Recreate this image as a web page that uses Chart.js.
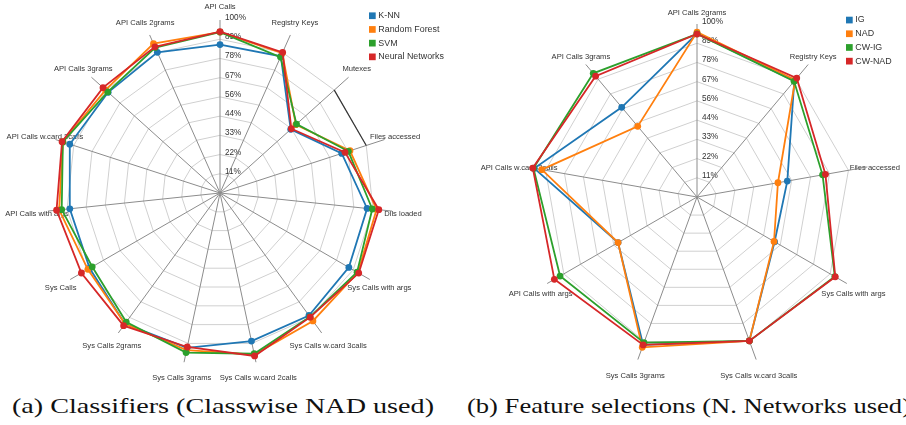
<!DOCTYPE html>
<html><head><meta charset="utf-8">
<script src="https://cdn.jsdelivr.net/npm/chart.js@4/dist/chart.umd.min.js"></script>
<style>
html,body{margin:0;padding:0;background:#fff;width:906px;height:425px;overflow:hidden;position:relative;}
.wrap{position:absolute;top:0;width:453px;height:390px;}
#wrapA{left:0;}
#wrapB{left:453px;}
.cap{position:absolute;top:393px;font-family:"Liberation Serif","DejaVu Serif",serif;font-size:22px;line-height:26px;color:#111;white-space:nowrap;transform-origin:0 0;}
#capA{left:12px;}
#capB{left:467px;}
</style></head>
<body>
<div class="wrap" id="wrapA"><canvas id="cA" width="453" height="390"></canvas></div>
<div class="wrap" id="wrapB"><canvas id="cB" width="453" height="390"></canvas></div>
<div class="cap" id="capA">(a) Classifiers (Classwise NAD used)</div>
<div class="cap" id="capB">(b) Feature selections (N. Networks used)</div>
<script>
// ---------- data ----------
const tickLabels = ['11%','22%','33%','44%','56%','67%','78%','89%','100%'];

const categoriesA = ['API Calls','Registry Keys','Mutexes','Files accessed','Dlls loaded','Sys Calls with args','Sys Calls w.card 3calls','Sys Calls w.card 2calls','Sys Calls 3grams','Sys Calls 2grams','Sys Calls','API Calls with args','API Calls w.card 2calls','API Calls 3grams','API Calls 2grams'];
const knn            = [85.8, 86.5, 55.0, 74.0, 85.5, 86.0, 87.5, 87.5, 91.5, 93.5, 87.0, 87.3, 91.3, 87.0, 89.0];
const randomForest   = [93.0, 88.5, 59.0, 79.0, 91.0, 92.0, 91.4, 95.5, 92.8, 93.5, 88.2, 93.5, 95.5, 89.0, 94.5];
const svm            = [93.0, 86.0, 59.5, 78.0, 88.5, 91.5, 88.5, 95.0, 94.3, 92.2, 85.3, 92.0, 95.5, 87.3, 92.0];
const neuralNetworks = [93.3, 89.0, 55.5, 76.0, 92.3, 92.6, 88.7, 96.3, 91.0, 94.8, 92.5, 95.0, 96.0, 91.0, 92.5];

const categoriesB = ['API Calls 2grams','Registry Keys','Files accessed','Sys Calls with args','Sys Calls w.card 3calls','Sys Calls 3grams','API Calls with args','API Calls w.card 2calls','API Calls 3grams'];
const ig    = [94.5, 87.5, 53.0, 51.8, 88.5, 91.0, 52.7, 95.5, 67.7];
const nad   = [95.3, 88.3, 47.5, 51.4, 88.5, 92.5, 52.7, 91.1, 53.3];
const cwIg  = [94.3, 87.3, 73.7, 92.0, 88.5, 89.6, 91.4, 96.0, 93.3];
const cwNad = [94.2, 89.7, 75.4, 92.3, 88.5, 91.0, 95.2, 96.4, 91.2];

const seriesNamesA = ['K-NN','Random Forest','SVM','Neural Networks'];
const seriesNamesB = ['IG','NAD','CW-IG','CW-NAD'];
// ---------- styles ----------
const COLORS = ['#1f77b4','#ff7f0e','#2ca02c','#d62728'];
const SANS = '"Liberation Sans", Arial, sans-serif';
const MAXV = 100;
const levelValues = tickLabels.map((_, k) => (k + 1) * MAXV / tickLabels.length);

function makeDatasets(names, arrays) {
  return arrays.map((arr, i) => ({
    label: names[i],
    data: arr,
    borderColor: COLORS[i],
    backgroundColor: COLORS[i],
    pointBackgroundColor: COLORS[i],
    pointBorderColor: COLORS[i],
    pointBorderWidth: 0,
    pointRadius: 3.4,
    pointHoverRadius: 3.4,
    borderWidth: 1.8,
    fill: false,
    order: arrays.length - i
  }));
}

const decorPlugin = {
  id: 'decor',
  beforeDraw(chart, args, o) {
    const s = chart.scales.r;
    const ctx = chart.ctx;
    ctx.save();
    // axis (category) labels
    ctx.font = '7.6px ' + SANS;
    ctx.fillStyle = '#333';
    ctx.textAlign = 'center';
    ctx.textBaseline = 'middle';
    chart.data.labels.forEach((lab, i) => {
      const a = s.getIndexAngle(i);
      const x = s.xCenter + o.labelDx * Math.sin(a);
      const y = s.yCenter - o.labelDy * Math.cos(a) + o.labelC;
      ctx.fillText(lab, x, y);
    });
    // level tick labels
    ctx.font = '8.2px ' + SANS;
    ctx.textAlign = 'left';
    ctx.textBaseline = 'alphabetic';
    ctx.fillStyle = '#333';
    levelValues.forEach((v, k) => {
      const d = s.getDistanceFromCenterForValue(v);
      ctx.fillText(tickLabels[k], s.xCenter + 5, s.yCenter - d);
    });
    // legend
    ctx.font = '8.9px ' + SANS;
    ctx.textBaseline = 'middle';
    chart.data.datasets.forEach((ds, i) => {
      const cy = o.legendY + i * 13.7;
      ctx.fillStyle = ds.borderColor;
      ctx.fillRect(o.legendX, cy - 3.3, 6.7, 6.7);
      ctx.fillStyle = '#333';
      ctx.fillText(ds.label, o.legendX + 9.3, cy);
    });
    ctx.restore();
  },
  beforeDatasetsDraw(chart, args, o) {
    if (!o.darkSeg) return;
    const s = chart.scales.r;
    const ctx = chart.ctx;
    const v = levelValues[levelValues.length - 2];
    const p1 = s.getPointPositionForValue(o.darkSeg[0], v);
    const p2 = s.getPointPositionForValue(o.darkSeg[1], v);
    ctx.save();
    ctx.strokeStyle = '#333';
    ctx.lineWidth = 1.2;
    ctx.beginPath();
    ctx.moveTo(p1.x, p1.y);
    ctx.lineTo(p2.x, p2.y);
    ctx.stroke();
    ctx.restore();
  }
};

function makeChart(id, labels, names, arrays, padding, decor) {
  return new Chart(document.getElementById(id), {
    type: 'radar',
    data: { labels: labels, datasets: makeDatasets(names, arrays) },
    options: {
      responsive: false,
      animation: false,
      devicePixelRatio: 1,
      layout: { padding: padding },
      plugins: { legend: { display: false }, tooltip: { enabled: false }, decor: decor },
      elements: { line: { tension: 0 } },
      scales: {
        r: {
          min: 0, max: MAXV, startAngle: 0,
          ticks: { display: false },
          pointLabels: { display: false },
          grid: { color: '#d0d0d0', lineWidth: 1, circular: false },
          angleLines: { color: '#8c8c8c', lineWidth: 1 },
          afterBuildTicks: sc => { sc.ticks = [0].concat(levelValues.slice(0, -1)).map(v => ({ value: v })); }
        }
      }
    },
    plugins: [decorPlugin]
  });
}

makeChart('cA', categoriesA, seriesNamesA, [knn, randomForest, svm, neuralNetworks],
  { left: 47, top: 20, right: 60, bottom: 24 },
  { labelDx: 184, labelDy: 187.4, labelC: 1.4, legendX: 369, legendY: 15.7, darkSeg: [2, 3] });

makeChart('cB', categoriesB, seriesNamesB, [ig, nad, cwIg, cwNad],
  { left: 71, top: 24, right: 36, bottom: 20 },
  { labelDx: 180.6, labelDy: 187.3, labelC: 3.0, legendX: 393, legendY: 20, darkSeg: null });

// fit caption widths
(function () {
  const a = document.getElementById('capA');
  const b = document.getElementById('capB');
  const wa = a.getBoundingClientRect().width;
  const wb = b.getBoundingClientRect().width;
  a.style.transform = 'scaleX(' + (422 / wa) + ')';
  b.style.transform = 'scaleX(' + (444 / wb) + ')';
})();
</script>
</body></html>
